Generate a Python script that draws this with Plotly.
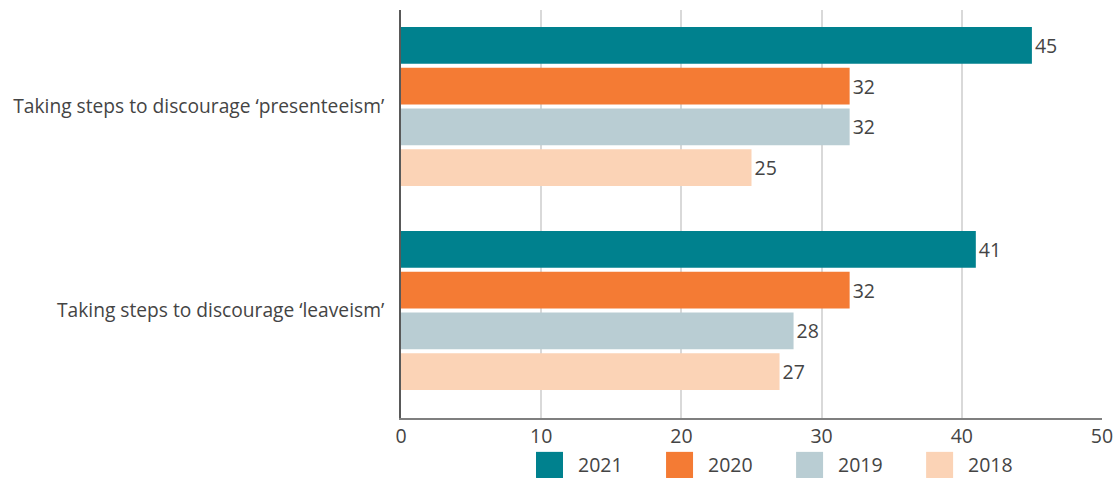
import plotly.graph_objects as go

categories = [
    "Taking steps to discourage ‘presenteeism’",
    "Taking steps to discourage ‘leaveism’",
]
years = ["2021", "2020", "2019", "2018"]
values = {
    "2021": [45, 41],
    "2020": [32, 32],
    "2019": [32, 28],
    "2018": [25, 27],
}
colors = {
    "2021": "#00818E",
    "2020": "#F47B34",
    "2019": "#B9CDD3",
    "2018": "#FBD3B6",
}

FONT = "Open Sans"
TEXT_COLOR = "#444444"

fig = go.Figure()

for yr in years:
    fig.add_trace(
        go.Bar(
            y=categories,
            x=values[yr],
            name=yr,
            orientation="h",
            marker=dict(color=colors[yr], line=dict(width=0)),
            text=values[yr],
            textposition="outside",
            textfont=dict(family=FONT, size=19.5, color=TEXT_COLOR),
            cliponaxis=False,
            showlegend=False,
        )
    )

# legend drawn by hand so the swatches can be large squares
x0 = 0.1926
step = 0.1855
for i, yr in enumerate(years):
    left = x0 + i * step
    fig.add_shape(
        type="rect",
        xref="paper",
        yref="paper",
        x0=left,
        x1=left + 0.0385,
        y0=-0.083,
        y1=-0.147,
        fillcolor=colors[yr],
        line=dict(width=0),
    )
    fig.add_annotation(
        x=left + 0.057,
        y=-0.115,
        xref="paper",
        yref="paper",
        text=yr,
        showarrow=False,
        xanchor="left",
        yanchor="middle",
        font=dict(family=FONT, size=19.5, color=TEXT_COLOR),
    )

fig.update_layout(
    width=1120,
    height=492,
    margin=dict(l=401, r=18, t=10, b=74),
    barmode="group",
    bargap=0.2,
    bargroupgap=0.1,
    plot_bgcolor="white",
    paper_bgcolor="white",
    font=dict(family=FONT, color=TEXT_COLOR),
    showlegend=False,
    xaxis=dict(
        range=[0, 50],
        dtick=10,
        showgrid=True,
        gridcolor="#D9D9D9",
        gridwidth=1.5,
        showline=True,
        linecolor="#7F7F7F",
        linewidth=2,
        zeroline=False,
        tickfont=dict(family=FONT, size=19.5, color=TEXT_COLOR),
        ticks="",
        automargin=False,
    ),
    yaxis=dict(
        range=[1.527, -0.473],
        showline=True,
        linecolor="#595959",
        linewidth=2,
        showgrid=False,
        ticks="",
        ticklabelstandoff=11,
        tickfont=dict(family=FONT, size=19.2, color=TEXT_COLOR),
        automargin=False,
    ),
)

fig.write_html(
    "out.html",
    config={"displayModeBar": False},
    post_script="document.body.style.margin='0';",
)
